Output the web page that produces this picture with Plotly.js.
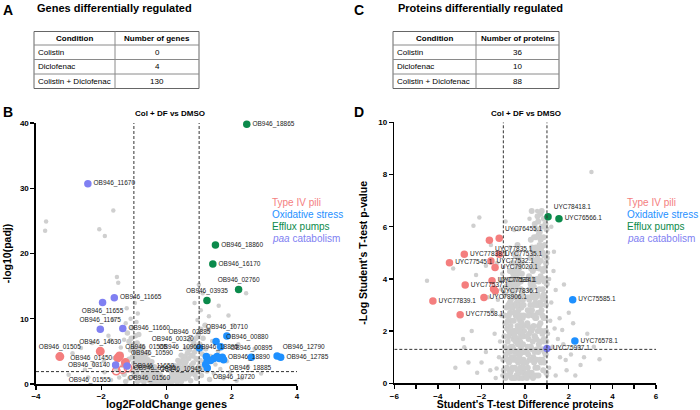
<!DOCTYPE html>
<html><head><meta charset="utf-8">
<script src="https://cdn.plot.ly/plotly-3.0.1.min.js"></script>
<style>html,body{margin:0;padding:0;background:#fff}#plot{width:700px;height:410px}</style>
</head><body><div id="plot"></div>
<script>
// ---------- Tables ----------
const conditions = ['Colistin', 'Diclofenac', 'Colistin + Diclofenac'];
const geneCounts = [0, 4, 130];
const proteinCounts = [36, 10, 88];
const geneHeader = ['Condition', 'Number of genes'];
const proteinHeader = ['Condition', 'Number of proteins'];

// ---------- Panel B (genes): dense cloud ----------
const coreB_x = [-1.20,-1.15,-1.10,-1.08,-1.05,-1.02,-1.00,-0.98,-0.96,-0.95,
-0.93,-0.91,-0.90,-0.88,-0.86,-0.85,-0.83,-0.82,-0.80,-0.78,
-0.77,-0.75,-0.74,-0.72,-0.70,-0.69,-0.67,-0.66,-0.64,-0.62,
-0.61,-0.59,-0.57,-0.56,-0.54,-0.52,-0.51,-0.49,-0.47,-0.46,
-0.44,-0.42,-0.41,-0.39,-0.37,-0.35,-0.33,-0.31,-0.30,-0.28,
-0.26,-0.24,-0.22,-0.20,-0.18,-0.16,-0.14,-0.12,-0.10,-0.08,
-1.25,-1.30,-1.18,-1.12,-1.15,-1.05,-0.85,-0.72,-0.60,-0.45,
-1.05,-0.99,-0.94,-0.89,-0.84,-0.79,-0.76,-0.71,-0.68,-0.63,
-0.58,-0.55,-0.50,-0.45,-0.40,-0.36,-0.32,-0.27,-0.23,-0.19,
0.06,0.08,0.10,0.12,0.14,0.16,0.18,0.20,0.22,0.24,
0.26,0.28,0.30,0.32,0.34,0.36,0.38,0.40,0.42,0.44,
0.46,0.48,0.50,0.52,0.54,0.56,0.58,0.60,0.62,0.64,
0.66,0.68,0.70,0.72,0.74,0.76,0.78,0.80,0.82,0.84,
0.86,0.88,0.90,0.92,0.94,0.96,0.98,1.00,1.02,1.05,
1.07,1.09,1.12,1.15,1.18,1.20,1.24,1.28,1.32,1.35,
0.72,0.60,0.45,0.35,0.25,0.15,0.11,0.17,0.23,0.29,
0.33,0.39,0.43,0.49,0.53,0.57,0.63,0.67,0.71,0.77,
0.81,0.87,0.91,0.97,1.03,1.10];
const coreB_y = [7.8,6.5,5.2,7.0,4.1,6.0,3.2,5.4,2.4,7.4,
4.6,1.7,6.3,3.6,5.1,1.1,2.8,4.4,5.8,0.6,
3.4,2.1,4.8,1.4,3.9,0.3,2.6,4.3,1.8,3.2,
0.9,2.2,3.7,1.3,2.8,0.5,1.9,3.1,1.0,2.4,
0.2,1.6,2.7,0.7,1.9,1.2,2.2,0.4,1.5,0.9,
1.7,0.3,1.1,0.6,1.3,0.2,0.8,0.4,0.6,0.1,
0.4,1.5,2.6,0.9,3.8,8.6,7.6,5.6,4.6,3.4,
2.0,1.3,3.9,0.4,2.3,3.8,1.0,2.9,1.1,2.6,
1.6,0.8,2.5,1.4,0.5,2.6,1.0,0.5,1.5,0.9,
0.2,0.5,0.3,0.9,0.6,1.3,0.4,1.0,1.7,0.7,
2.1,1.3,0.5,2.5,1.6,0.9,2.9,2.0,1.2,3.3,
0.4,2.4,3.7,1.5,2.9,4.2,0.8,3.4,2.0,4.7,
1.1,3.9,5.2,2.6,0.5,4.4,5.8,1.7,3.2,6.3,
4.9,2.3,7.0,0.9,5.5,3.7,7.6,2.8,6.1,8.4,
1.3,4.6,7.0,3.3,9.0,5.4,2.0,8.3,0.7,4.2,
6.8,5.5,4.4,3.6,2.8,1.9,0.2,0.8,1.2,1.8,
0.3,1.4,2.3,1.0,2.0,3.1,1.2,2.5,1.5,2.9,
4.3,1.4,3.9,1.9,3.6,2.3];
// ---------- Panel B: scattered points ----------
const sparseB_x = [-1.35,-1.45,-1.55,-1.70,-1.60,-1.40,-1.30,-1.25,-1.10,-1.38,
-0.88,-0.92,-1.22,-0.97,-1.62,-1.78,-2.28,-2.62,-2.88,-1.92,
-2.20,-1.72,-2.50,-3.00,-2.40,-1.90,-1.52,-1.48,-3.69,-3.72,
-1.63,-2.06,-1.89,
1.40,1.45,1.50,1.58,1.65,1.75,1.85,1.95,0.99,1.11,
0.86,1.05,2.44,2.31,1.30,0.95,1.60,2.05,2.50,2.90,
2.20,1.90,2.70,2.15];
const sparseB_y = [2.8,1.0,2.2,0.6,4.0,5.6,6.8,9.3,10.0,4.6,
10.8,9.5,11.6,12.4,9.9,7.4,6.3,5.5,4.7,3.5,
3.0,6.7,2.2,1.4,1.0,1.8,16.4,15.5,24.9,23.5,
26.6,23.7,22.7,
6.6,1.6,3.0,5.0,2.3,0.9,3.5,1.8,15.2,13.9,
12.4,11.3,13.9,0.9,10.4,9.8,12.0,9.0,2.7,1.6,
6.1,10.5,5.4,0.5];

const piliB_x = [-3.27,-2.03,-1.44,-1.49,-1.26,-1.18,-1.54,-1.35];
const piliB_y = [4.2,5.0,4.3,4.0,3.3,2.45,2.0,2.2];
const piliB_lab = ['OB946_01505','OB946_14630','OB946_01565','OB946_01450','OB946_10590','OB946_01435','OB946_01555','OB946_01560'];

const oxB_x = [1.85,1.52,1.66,1.01,1.55,1.22,1.71,1.25,2.60,3.39,3.50,1.75,1.25,1.45,1.35,1.20,1.62];
const oxB_y = [7.35,6.5,5.7,5.5,4.2,4.2,4.1,3.6,4.1,4.3,4.1,3.7,2.45,3.9,3.6,3.0,3.9];
const oxB_lab = ['OB946_10710','OB946_02885','OB946_00880','OB946_00320','OB946_18895','OB946_10960','OB946_18890','OB946_10945','OB946_00895','OB946_12790','OB946_12785','OB946_18885','OB946_10720','','','',''];

const effluxB_x = [2.46,1.50,1.42,2.21,1.24];
const effluxB_y = [39.8,21.3,18.4,14.5,12.8];
const effluxB_lab = ['OB946_18865','OB946_18860','OB946_16170','OB946_02760','OB946_03935'];

const paaB_x = [-2.41,-1.60,-1.96,-2.03,-1.34,-1.56,-1.21];
const paaB_y = [30.7,13.2,12.5,8.4,8.5,2.9,2.75];
const paaB_lab = ['OB946_11670','OB946_11665','OB946_11655','OB946_11675','OB946_11660','OB946_03140','OB946_11650'];

// ---------- Panel D (proteins): dense cloud ----------
const coreD_x = [-0.90,-0.85,-0.88,-0.80,-0.83,-0.78,-0.75,-0.72,-0.70,-0.74,
-0.68,-0.66,-0.64,-0.62,-0.60,-0.58,-0.56,-0.55,-0.53,-0.52,
-0.50,-0.49,-0.47,-0.46,-0.44,-0.43,-0.41,-0.40,-0.38,-0.37,
-0.35,-0.34,-0.32,-0.31,-0.29,-0.28,-0.26,-0.25,-0.23,-0.22,
-0.20,-0.19,-0.17,-0.16,-0.14,-0.13,-0.11,-0.10,-0.08,-0.07,
-0.05,-0.04,-0.30,-0.45,-0.60,-0.15,-0.85,-0.95,-1.00,-0.92,
-0.67,-0.57,-0.48,-0.36,-0.24,-0.44,-0.52,-0.27,-0.33,-0.41,
-0.19,-0.12,-0.63,-0.76,-0.58,-0.39,-0.21,-0.82,-0.69,-0.54,
-0.42,-0.29,-0.16,-0.09,-0.79,-0.65,-0.51,-0.37,-0.23,-0.06,
-0.71,-0.46,-0.33,-0.18,-0.55,-0.94,-0.87,-0.62,-0.28,-0.12,
-0.98,-0.93,-0.89,-0.86,-0.81,-0.77,-0.73,-0.71,-0.68,-0.66,
-0.63,-0.61,-0.59,-0.57,-0.54,-0.53,-0.50,-0.48,-0.47,-0.45,
-0.43,-0.42,-0.40,-0.38,-0.36,-0.35,-0.33,-0.31,-0.30,-0.28,
-0.27,-0.25,-0.24,-0.22,-0.21,-0.19,-0.17,-0.16,-0.14,-0.13,
-0.11,-0.10,-0.08,-0.07,-0.06,-0.40,-0.25,-0.52,-0.70,-0.35,
0.05,0.08,0.10,0.12,0.14,0.16,0.18,0.20,0.22,0.24,
0.26,0.28,0.30,0.31,0.33,0.35,0.37,0.39,0.41,0.43,
0.45,0.47,0.49,0.51,0.53,0.55,0.57,0.59,0.61,0.63,
0.65,0.67,0.69,0.71,0.73,0.75,0.77,0.79,0.81,0.83,
0.85,0.87,0.89,0.91,0.93,0.95,0.97,0.99,0.36,0.44,
0.52,0.58,0.62,0.68,0.74,0.80,0.86,0.92,0.18,0.24,
0.29,0.34,0.40,0.46,0.54,0.66,0.76,0.84,0.48,0.60,
0.70,0.30,0.76,0.12,0.21,0.27,0.38,0.50,0.56,0.64,
0.72,0.78,0.88,0.96,0.90,0.82,0.42,0.32,0.22,0.14,
0.60,0.70,0.94,0.98,0.44,0.36,0.50,0.08,0.26,0.62,
0.06,0.09,0.11,0.13,0.15,0.17,0.19,0.21,0.23,0.25,
0.27,0.29,0.31,0.33,0.35,0.37,0.39,0.41,0.43,0.45,
0.47,0.49,0.51,0.53,0.55,0.57,0.59,0.61,0.63,0.65,
0.67,0.69,0.71,0.73,0.75,0.77,0.79,0.81,0.83,0.85,
0.87,0.89,0.91,0.93,0.95,0.97,0.99,0.57,0.86,0.40];
const coreD_y = [0.2,0.6,1.1,1.6,2.1,0.3,2.6,1.2,3.1,0.8,
1.9,3.6,0.5,2.4,4.0,1.4,2.9,0.2,3.4,1.0,
4.3,2.0,0.6,3.7,1.6,2.6,4.1,0.3,3.1,1.2,
2.2,3.8,0.8,2.8,1.7,4.4,0.4,3.3,2.4,1.3,
3.9,0.9,2.9,1.9,0.5,3.5,2.5,1.5,0.9,3.0,
2.0,0.4,4.8,4.9,4.6,4.2,2.9,1.8,0.9,3.4,
2.2,0.9,1.2,0.5,1.1,3.3,2.4,2.0,1.5,2.0,
2.6,1.2,1.0,1.8,3.5,3.6,3.2,1.3,2.7,1.7,
0.9,2.5,3.4,2.2,2.4,3.2,3.0,2.6,1.6,1.2,
0.5,0.2,4.2,4.6,4.2,2.6,0.3,0.2,0.2,0.2,
0.5,1.4,2.3,3.7,0.9,3.0,2.0,3.8,0.4,1.4,
2.9,3.9,0.6,2.0,3.7,1.3,2.7,3.9,1.8,0.9,
4.4,3.0,1.6,4.3,2.0,0.9,3.0,4.5,1.1,3.0,
1.5,2.1,3.9,0.6,1.9,3.6,1.3,2.3,3.0,1.8,
0.8,3.2,1.8,2.6,0.6,5.0,4.6,4.6,4.3,5.3,
0.3,1.2,2.3,0.6,3.3,1.7,4.1,0.9,2.7,4.8,
1.4,3.6,0.4,5.2,2.1,4.3,1.0,3.0,5.6,1.8,
3.9,0.6,4.7,2.5,5.9,1.3,3.4,5.1,0.3,2.2,
4.4,1.6,3.1,5.5,0.8,2.8,4.0,1.9,3.6,0.5,
2.5,4.9,1.2,3.2,6.1,2.0,0.4,3.8,2.6,1.2,
0.9,2.0,3.9,0.9,2.0,0.9,1.7,2.5,1.9,3.0,
2.0,3.4,4.6,2.5,4.0,5.3,6.0,5.6,5.2,6.2,
6.5,6.6,6.6,2.8,3.6,4.4,5.0,3.3,4.8,3.0,
4.7,3.3,3.9,4.6,5.3,4.3,2.6,1.3,0.3,1.1,
1.2,2.3,1.1,5.9,6.1,0.2,0.3,0.2,5.5,5.7,
0.8,1.8,1.4,2.2,2.6,0.4,3.2,1.4,2.1,3.8,
0.9,4.8,2.8,4.0,1.6,3.3,2.2,0.8,4.4,1.8,
3.1,5.6,1.7,3.0,5.0,0.6,2.7,4.6,1.5,3.6,
5.8,2.0,4.1,3.0,5.2,1.3,2.6,5.0,1.6,3.4,
0.8,4.4,2.0,4.0,3.0,1.6,4.8,6.4,6.3,3.7];
// ---------- Panel D: scattered points ----------
const sparseD_x = [3.04,-2.10,-2.37,-0.90,0.55,-4.50,-3.30,-2.25,1.78,1.58,
1.86,2.47,2.70,3.41,3.15,-2.79,-1.31,2.85,-1.57,-0.50,
1.40,1.70,-2.45,2.54,1.32,-1.20,-1.40,-1.10,-1.60,-1.25,
-1.80,-1.05,-1.50,-2.00,-1.70,-1.15,-1.35,1.10,1.25,1.15,
1.40,1.20,1.60,1.05,1.35,1.50,1.90,2.10,1.75,1.30,
1.10,1.05,-1.30,-1.05,-0.95,-0.70,-1.80,-2.60,-2.20,2.30,
2.00,-3.20,-0.95,1.00,-2.85,2.20,0.20,-0.30,1.20,-1.10];
const sparseD_y = [8.1,6.35,6.04,6.2,6.6,3.93,4.4,4.15,3.79,2.49,
0.89,1.4,1.0,0.92,1.4,1.38,0.57,1.9,5.3,5.87,
3.57,2.04,2.0,0.7,5.04,1.0,1.9,2.6,0.5,3.2,
1.2,0.3,2.8,0.8,3.3,1.6,0.2,0.6,1.4,2.4,
0.3,3.1,1.0,1.9,2.1,1.7,0.5,1.1,1.5,4.3,
4.0,5.0,4.6,4.2,5.0,5.2,4.5,0.8,0.4,0.3,
2.7,0.6,2.3,0.3,1.7,2.3,6.3,5.9,6.0,3.6];

const piliD_x = [-1.19,-1.64,-2.79,-1.19,-3.47,-1.57,-1.38,-1.52,-2.75,-1.45,-1.37,-1.89,-4.23,-2.98];
const piliD_y = [5.56,5.48,4.94,4.94,4.62,4.69,4.44,3.93,3.77,3.61,3.54,3.29,3.15,2.63];
const piliD_lab = ['UYC76455.1','UYC77835.1','UYC77838.1','UYC77535.1','UYC77545.1','UYC77532.1','UYC79020.1','UYC77533.1','UYC77537.1','UYC77534.1','UYC77836.1','UYC78906.1','UYC77839.1','UYC77558.1'];

const oxD_x = [2.18,2.28];
const oxD_y = [3.2,1.62];
const oxD_lab = ['UYC75585.1','UYC76578.1'];

const effluxD_x = [1.05,1.55];
const effluxD_y = [6.38,6.3];
const effluxD_lab = ['UYC78418.1','UYC76566.1'];

const paaD_x = [1.0];
const paaD_y = [1.33];
const paaD_lab = ['UYC75937.1'];

const categories = ['Type IV pili','Oxidative stress','Efflux pumps','<i>paa</i> catabolism'];

// thresholds drawn as dashed guides
const fcCut = 1;
const sigB = 1.9;
const sigD = 1.3;

// ---------- styles ----------
const F = 'Liberation Sans, Arial, sans-serif';
const COL = {pili:'#F47E7E', ox:'#1E90FF', efflux:'#0B8A4B', paa:'#8080F2', gray:'#CFCFCF'};
const posPiliB = ['top center','top center','top right','middle left','top right','middle right','bottom left','bottom right'];
const symPiliB = ['circle','circle','circle','circle','circle','circle-open','circle-open','circle-open'];
const posOxB = ['top center','top left','top right','top left','top center','top left','middle right','bottom left','top center','top right','middle right','bottom right','bottom right','middle right','middle right','middle right','middle right'];
const posEffB = ['middle right','middle right','middle right','top center','top center'];
const posPaaB = ['middle right','middle right','bottom center','top center','middle right','middle left','middle right'];
const posPiliD = ['top right','bottom right','middle right','middle right','middle right','middle right','middle right','middle right','middle right','top right','middle right','middle right','middle right','middle right'];

function pts(x, y, lab, pos, color, xa, ya, sym) {
  return {type:'scatter', mode:'markers+text', x:x, y:y, text:lab, textposition:pos,
    xaxis:xa, yaxis:ya, cliponaxis:false, hoverinfo:'skip',
    textfont:{family:F, size:6.5, color:'#222'},
    marker:{color:color, size:7.5, symbol: sym || 'circle', line:{color:color, width: sym ? 1.5 : 0}}};
}
function gray(x, y, xa, ya, s) {
  return {type:'scatter', mode:'markers', x:x, y:y, xaxis:xa, yaxis:ya, hoverinfo:'skip',
    marker:{color:COL.gray, size:s}};
}
const px = v => v/700, py = v => 1 - v/410;

const data = [
  gray(sparseB_x, sparseB_y, 'x', 'y', 4.5),
  gray(coreB_x, coreB_y, 'x', 'y', 5.5),
  gray(sparseD_x, sparseD_y, 'x2', 'y2', 4.5),
  gray(coreD_x, coreD_y, 'x2', 'y2', 6),
  pts(piliB_x, piliB_y, piliB_lab, posPiliB, COL.pili, 'x', 'y', symPiliB),
  pts(paaB_x, paaB_y, paaB_lab, posPaaB, COL.paa, 'x', 'y'),
  pts(oxB_x, oxB_y, oxB_lab, posOxB, COL.ox, 'x', 'y'),
  pts(effluxB_x, effluxB_y, effluxB_lab, posEffB, COL.efflux, 'x', 'y'),
  pts(piliD_x, piliD_y, piliD_lab, posPiliD, COL.pili, 'x2', 'y2'),
  pts(oxD_x, oxD_y, oxD_lab, 'middle right', COL.ox, 'x2', 'y2'),
  pts(effluxD_x, effluxD_y, effluxD_lab, ['top right','middle right'], COL.efflux, 'x2', 'y2'),
  pts(paaD_x, paaD_y, paaD_lab, 'middle right', COL.paa, 'x2', 'y2')
];

const base = {showline:true, linecolor:'#000', linewidth:1.6, ticks:'outside', ticklen:4, tickwidth:1.4,
  tickcolor:'#000', showgrid:false, zeroline:false, fixedrange:true,
  tickfont:{family:F, size:8, color:'#000', weight:'bold'}};
const tfont = s => ({family:F, size:s, color:'#000', weight:'bold'});

const dash = {color:'#333', width:1, dash:'3px,2px'};
const shapes = [
  {type:'line', xref:'x', yref:'y', x0:-fcCut, x1:-fcCut, y0:0, y1:40, line:dash},
  {type:'line', xref:'x', yref:'y', x0:fcCut, x1:fcCut, y0:0, y1:40, line:dash},
  {type:'line', xref:'x', yref:'y', x0:-4, x1:4, y0:sigB, y1:sigB, line:dash},
  {type:'line', xref:'x2', yref:'y2', x0:-fcCut, x1:-fcCut, y0:0, y1:10, line:dash},
  {type:'line', xref:'x2', yref:'y2', x0:fcCut, x1:fcCut, y0:0, y1:10, line:dash},
  {type:'line', xref:'x2', yref:'y2', x0:-6, x1:6, y0:sigD, y1:sigD, line:dash}
];

const ann = [];
const txt = (x, y, t, s, xa, bold, color) => ({xref:'paper', yref:'paper', x:px(x), y:py(y), text:t, showarrow:false,
  xanchor:xa || 'left', yanchor:'middle',
  font:{family:F, size:s, color:color || '#000', weight: bold === false ? 'normal' : 'bold'}});

// tables drawn from the arrays
const rowEdges = [31.5, 45, 59.5, 74, 88.5];
function drawTable(x0, split, x1, header, counts) {
  shapes.push({type:'rect', xref:'paper', yref:'paper', x0:px(x0), x1:px(x1), y0:py(rowEdges[0]), y1:py(rowEdges[4]),
    line:{color:'#666', width:1}, fillcolor:'rgba(0,0,0,0)'});
  shapes.push({type:'line', xref:'paper', yref:'paper', x0:px(split), x1:px(split), y0:py(rowEdges[0]), y1:py(rowEdges[4]),
    line:{color:'#8a8a8a', width:1}});
  for (let i = 1; i < rowEdges.length - 1; i++)
    shapes.push({type:'line', xref:'paper', yref:'paper', x0:px(x0), x1:px(x1), y0:py(rowEdges[i]), y1:py(rowEdges[i]),
      line:{color:'#8a8a8a', width:1}});
  const ymid = i => (rowEdges[i] + rowEdges[i+1]) / 2;
  ann.push(txt((x0+split)/2, ymid(0), header[0], 8, 'center'));
  ann.push(txt((split+x1)/2, ymid(0), header[1], 8, 'center'));
  conditions.forEach((c, i) => {
    ann.push(txt(x0 + 2, ymid(i+1), c, 8, 'left', false));
    ann.push(txt((split+x1)/2, ymid(i+1), String(counts[i]), 8, 'center', false));
  });
}
drawTable(34, 115, 199, geneHeader, geneCounts);
drawTable(393, 476, 559, proteinHeader, proteinCounts);

const catColors = [COL.pili, COL.ox, COL.efflux, COL.paa];
const legY = [202, 214.5, 226.5, 238.5];
[270, 625].forEach(lx => categories.forEach((c, i) => ann.push(txt(lx, legY[i], c, 10, 'left', false, catColors[i]))));

ann.push(txt(1, 10, 'A', 14), txt(35, 8, 'Genes differentially regulated', 11));
ann.push(txt(352, 10, 'C', 14), txt(396, 8, 'Proteins differentially regulated', 11));
ann.push(txt(1, 112, 'B', 14), txt(352, 112, 'D', 14));
ann.push(txt(170, 113, 'Col + DF vs DMSO', 8, 'center'), txt(526, 113, 'Col + DF vs DMSO', 8, 'center'));

const layout = {
  width:700, height:410, margin:{l:0, r:0, t:0, b:0}, paper_bgcolor:'#fff', plot_bgcolor:'rgba(0,0,0,0)',
  showlegend:false, font:{family:F},
  xaxis:Object.assign({}, base, {domain:[px(36), px(297)], range:[-4,4], tickvals:[-4,-2,0,2,4], anchor:'y',
    title:{text:'log2FoldChange genes', font:tfont(11), standoff:3}}),
  yaxis:Object.assign({}, base, {domain:[26/410, 287/410], range:[0,40], tickvals:[0,10,20,30,40], anchor:'x',
    title:{text:'-log10(padj)', font:tfont(10.5), standoff:6}}),
  xaxis2:Object.assign({}, base, {domain:[px(394.3), px(656)], range:[-6,6], tick0:0, dtick:2, anchor:'y2',
    minor:{dtick:1, ticks:'outside', ticklen:4, tickwidth:1.4, tickcolor:'#000'},
    title:{text:"Student's T-test Difference proteins", font:tfont(10.5), standoff:3}}),
  yaxis2:Object.assign({}, base, {domain:[26.7/410, 287.7/410], range:[0,10], tick0:0, dtick:2, anchor:'x2',
    title:{text:"-Log Student's T-test p-value", font:tfont(10.5), standoff:8}}),
  shapes:shapes, annotations:ann
};
Plotly.newPlot('plot', data, layout, {staticPlot:true, displayModeBar:false});
</script></body></html>
